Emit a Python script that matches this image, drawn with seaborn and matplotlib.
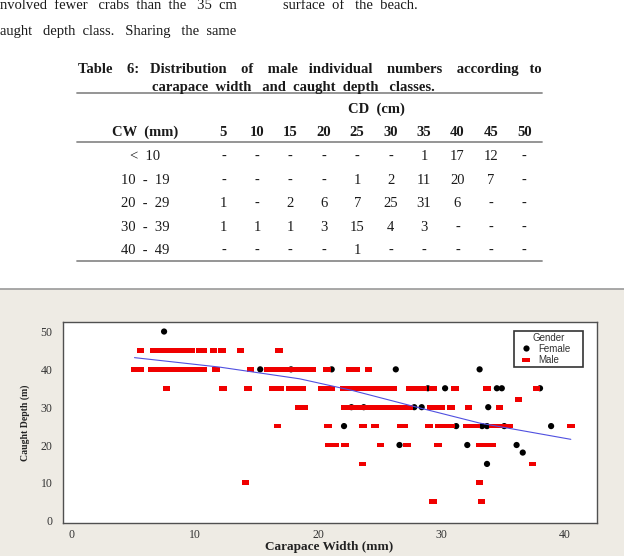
import numpy as np
import pandas as pd
import matplotlib
matplotlib.use("Agg")
import matplotlib.pyplot as plt
import seaborn as sns
from matplotlib.patches import Rectangle
from matplotlib.lines import Line2D

# 1- Data
# table 6: male counts by carapace width class (rows) and caught depth class (cols)
cd_classes = [5, 10, 15, 20, 25, 30, 35, 40, 45, 50]
cw_classes = ["<  10", "10  -  19", "20  -  29", "30  -  39", "40  -  49"]
counts_lt10 = [None, None, None, None, None, None, 1, 17, 12, None]
counts_10_19 = [None, None, None, None, 1, 2, 11, 20, 7, None]
counts_20_29 = [1, None, 2, 6, 7, 25, 31, 6, None, None]
counts_30_39 = [1, 1, 1, 3, 15, 4, 3, None, None, None]
counts_40_49 = [None, None, None, None, 1, None, None, None, None, None]

# scatter: females
female_cw = [7.5, 15.3, 17.8, 21.1, 26.3, 33.1, 28.9, 30.3, 34.5, 34.9, 38.0,
             22.7, 23.7, 27.8, 28.4, 33.8, 22.1, 31.2, 33.3, 33.7, 35.1, 38.9,
             26.6, 32.1, 36.1, 36.6, 33.7]
female_cd = [50, 40, 40, 40, 40, 40, 35, 35, 35, 35, 35,
             30, 30, 30, 30, 30, 25, 25, 25, 25, 25, 25,
             20, 20, 20, 18, 15]

# scatter: males, one list of widths per caught depth
male_depths = [45, 40, 35, 32, 30, 25, 20, 15, 10, 5]
male_cw_45 = [5.6, 6.7, 7.1, 7.5, 7.9, 8.3, 8.7, 9.1, 9.4, 9.7, 10.4, 10.7,
              11.5, 12.2, 13.7, 16.8]
male_cw_40 = [5.1, 5.6, 6.5, 6.9, 7.3, 7.7, 8.1, 8.5, 8.9, 9.3, 9.7, 10.1,
              10.4, 10.7, 11.7, 14.5, 15.9, 16.3, 16.7, 17.1, 17.5, 17.9,
              18.3, 18.7, 19.1, 19.5, 20.7, 22.6, 23.1, 24.1]
male_cw_35 = [7.7, 12.3, 14.3, 16.3, 16.9, 17.7, 18.1, 18.4, 18.7, 20.3, 20.7,
              21.05, 22.1, 22.5, 22.9, 23.3, 23.7, 24.1, 24.5, 24.9, 25.3,
              25.7, 26.1, 27.4, 27.8, 28.2, 28.5, 29.3, 31.1, 33.7, 37.7]
male_cw_32 = [36.25]
male_cw_30 = [18.4, 18.9, 22.2, 22.6, 23.0, 23.4, 23.8, 24.2, 24.6, 25.0,
              25.4, 25.8, 26.2, 26.6, 27.0, 27.4, 29.1, 29.5, 30.0, 30.8,
              32.2, 34.7]
male_cw_25 = [16.7, 20.8, 23.65, 24.6, 26.7, 27.0, 29.0, 29.8, 30.2, 30.6,
              30.8, 32.1, 32.5, 32.8, 34.2, 34.6, 35.0, 35.5, 40.5]
male_cw_20 = [20.9, 21.4, 22.2, 25.05, 27.2, 29.7, 33.1, 33.5, 34.1]
male_cw_15 = [23.6, 37.4]
male_cw_10 = [14.1, 33.1]
male_cw_5 = [29.3, 33.25]

# fitted line through the cloud
line_cw = [5.1, 12.0, 18.5, 22.8, 28.0, 33.1, 40.5]
line_cd = [43.1, 40.6, 37.5, 34.4, 30.0, 25.8, 21.5]

male_rows = [male_cw_45, male_cw_40, male_cw_35, male_cw_32, male_cw_30,
             male_cw_25, male_cw_20, male_cw_15, male_cw_10, male_cw_5]
male_cw, male_cd = [], []
for d, row in zip(male_depths, male_rows):
    male_cw += row
    male_cd += [d] * len(row)

# females first so the males are drawn on top
df = pd.DataFrame({
    "Carapace Width (mm)": female_cw + male_cw,
    "Caught Depth (m)": female_cd + male_cd,
    "Gender": ["Female"] * len(female_cw) + ["Male"] * len(male_cw),
})

# 2- Page
sns.set_style("white")
plt.rcParams["font.family"] = ["Liberation Serif", "DejaVu Serif"]

W, H = 624, 556
fig = plt.figure(figsize=(W / 100, H / 100), dpi=100)
fig.patch.set_facecolor("white")
renderer = fig.canvas.get_renderer()


def px(x, y):
    return x / W, 1 - y / H


def justify(words, x0, x1, y, **kw):
    # one string per line, padded with spaces so it spans x0..x1
    probe = fig.text(0, 0, "", **kw)

    def width(s):
        probe.set_text(s)
        return probe.get_window_extent(renderer).width

    sp = (width("a" + " " * 10 + "a") - width("aa")) / 10
    ws = [width(w) for w in words]
    gap = (x1 - x0 - sum(ws)) / max(len(words) - 1, 1)
    s, n_sp = words[0], 0
    for i in range(1, len(words)):
        target = sum(ws[:i]) + gap * i
        k = max(1, int(round((target - sum(ws[:i]) - n_sp * sp) / sp)))
        n_sp += k
        s += " " * k + words[i]
    probe.remove()
    fig.text(*px(x0, y), s, ha="left", va="baseline", **kw)


body = dict(family="Liberation Serif", fontsize=10.5, color="#1a1a1a")
justify(["nvolved", "fewer", "crabs", "than", "the", "35", "cm"], 0, 237, 9, **body)
justify(["aught", "depth", "class.", "Sharing", "the", "same"], 0, 237, 35, **body)
justify(["surface", "of", "the", "beach."], 283, 417, 9, **body)

# table title
bold = dict(family="Liberation Serif", fontsize=10.5, fontweight="bold", color="#1a1a1a")
justify(["Table", "6:", "Distribution", "of", "male", "individual", "numbers",
         "according", "to"], 78, 543, 73, **bold)
justify(["carapace", "width", "and", "caught", "depth", "classes."], 152, 433, 90.5, **bold)

# table rules
for yr in [93.3, 141.7, 260.7]:
    fig.add_artist(Line2D([77 / W, 541.7 / W], [1 - yr / H] * 2,
                          transform=fig.transFigure, color="#8c8c8c", lw=1.3))

col_x = np.linspace(223.5, 524.3, len(cd_classes))
row_y = np.linspace(160, 254.3, len(cw_classes))
fig.text(*px(376.7, 112.5), "CD  (cm)", ha="center", va="baseline", **bold)
fig.text(*px(145, 136), "CW  (mm)", ha="center", va="baseline", **bold)
for cx, c in zip(col_x, cd_classes):
    fig.text(*px(cx, 136), str(c), ha="center", va="baseline", **bold)

all_counts = [counts_lt10, counts_10_19, counts_20_29, counts_30_39, counts_40_49]
for ry, label, row in zip(row_y, cw_classes, all_counts):
    fig.text(*px(145, ry), label, ha="center", va="baseline", **body)
    for cx, v in zip(col_x, row):
        fig.text(*px(cx, ry), "-" if v is None else str(v),
                 ha="center", va="baseline", **body)

# beige panel holding the graph
fig.add_artist(Rectangle((0, 0), 1, 1 - 289 / H, transform=fig.transFigure,
                         facecolor="#EEEBE4", edgecolor="none", zorder=0))
fig.add_artist(Line2D([0, 1], [1 - 288.5 / H] * 2, transform=fig.transFigure,
                      color="#9a9a9a", lw=1.2))

# 3- Scatter plot
ax = fig.add_axes([63 / W, 1 - 523.3 / H, 533.7 / W, 201.6 / H])
ax.set_facecolor("white")

rect = np.array([(-1, -0.62), (1, -0.62), (1, 0.62), (-1, 0.62)])
sns.scatterplot(data=df, x="Carapace Width (mm)", y="Caught Depth (m)",
                hue="Gender", style="Gender", size="Gender",
                palette={"Female": "black", "Male": "#F00000"},
                markers={"Female": "o", "Male": rect},
                sizes={"Female": 20, "Male": 30},
                linewidth=0, ax=ax, legend="full")
sns.lineplot(x=line_cw, y=line_cd, ax=ax, color="#5050e0", lw=0.8,
             sort=False, estimator=None, legend=False)

ax.set_xlim(-0.7, 42.6)
ax.set_ylim(-0.7, 52.6)
ax.set_xticks([0, 10, 20, 30, 40])
ax.set_yticks([0, 10, 20, 30, 40, 50])
ax.tick_params(direction="out", length=3, width=0.8, color="#444444",
               labelsize=8.5, labelcolor="#333333")
ax.tick_params(axis="x", pad=0.8)
ax.tick_params(axis="y", pad=4.5)
for lab in ax.get_xticklabels() + ax.get_yticklabels():
    lab.set_fontfamily("Liberation Serif")
for sp in ax.spines.values():
    sp.set_visible(True)
    sp.set_color("#505050")
    sp.set_linewidth(1.0)

ax.set_xlabel("Carapace Width (mm)", fontsize=9.5, fontweight="bold",
              family="Liberation Serif", color="#222222", va="center")
ax.set_ylabel("Caught Depth (m)", fontsize=7, fontweight="bold",
              family="Liberation Serif", color="#222222", va="center")
ax.xaxis.set_label_coords(0.498, -0.118)
ax.yaxis.set_label_coords(-0.071, 0.497)

# legend box spans x 514..583 px, top at 331 px
sns.move_legend(ax, "upper left", bbox_to_anchor=(0.845, 0.3, 0.1293, 0.655),
                mode="expand", frameon=True, fancybox=False,
                edgecolor="#333333", framealpha=1, fontsize=7, title_fontsize=7,
                borderpad=0.2, handletextpad=0.2, labelspacing=0.12,
                handlelength=2.1, borderaxespad=0)
leg = ax.get_legend()
leg.get_frame().set_linewidth(1.2)
for t in leg.get_texts() + [leg.get_title()]:
    t.set_fontfamily("Liberation Sans")
    t.set_color("#333333")

fig.savefig("out.png", dpi=100)
